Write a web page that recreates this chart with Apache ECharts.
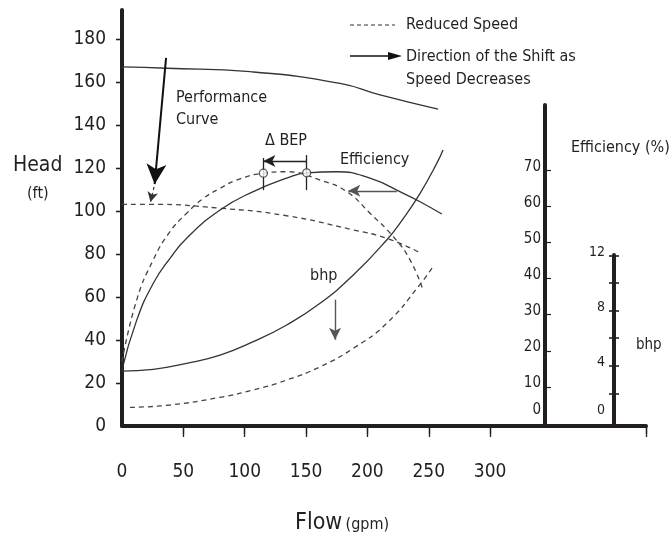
<!DOCTYPE html>
<html lang="en">
<head>
  <meta charset="UTF-8">
  <title>Pump curves at reduced speed</title>
  <script src="https://cdn.jsdelivr.net/npm/echarts@6/dist/echarts.min.js"></script>
  <style>
    html, body { margin: 0; padding: 0; background: #fff; }
    #chart { width: 670px; height: 538px; }
  </style>
</head>
<body>
  <div id="chart"></div>
  <script>
    // tick labels
    var flowTicks = [0, 50, 100, 150, 200, 250, 300];
    var headTicks = [0, 20, 40, 60, 80, 100, 120, 140, 160, 180];
    var effTicks = [0, 10, 20, 30, 40, 50, 60, 70];
    var bhpTicks = [0, 4, 8, 12];
    var bhpMinor = [2, 4, 6, 8, 10, 12];

    // head (ft) - full speed / reduced speed
    var headFlow = [0, 36.4, 104.3, 177.7, 210.3, 257.5];
    var headFull = [167, 166.4, 164.8, 159.4, 154, 147.4];
    var headRedFlow = [0, 22.8, 79.9, 134.2, 188.5, 215.7, 241.5];
    var headReduced = [103.1, 103.1, 101.3, 97.8, 91.2, 87.3, 81];

    // efficiency (%)
    var effFlow = [0, 12, 25.5, 39.1, 52.7, 79.9, 107, 134.2, 150.5, 175, 202.1, 229.3, 242.9, 260.6];
    var effFull = [14.7, 28.5, 38.7, 45.6, 51.2, 59, 64.1, 67.8, 69.3, 69.6, 67.8, 63.6, 61.3, 57.9];
    var effRedFlow = [0, 12, 25.5, 39.1, 52.7, 66.3, 79.9, 93.5, 115.2, 134.2, 161.4, 183.1, 202.1, 221.1, 234.7, 245.3];
    var effReduced = [17, 34.1, 45.2, 53, 58.1, 62.2, 65, 67.3, 69.2, 69.6, 67.3, 64.1, 58.1, 51.6, 45.2, 36.8];

    // bhp
    var bhpFlow = [0, 25.5, 52.7, 79.9, 107, 134.2, 161.4, 188.5, 215.7, 229.3, 242.9, 256.5, 261.6];
    var bhpFull = [3.62, 3.75, 4.18, 4.78, 5.75, 6.96, 8.53, 10.58, 13.12, 14.69, 16.5, 18.67, 19.64];
    var bhpRedFlow = [6.5, 39.1, 79.9, 107, 134.2, 161.4, 188.5, 215.7, 242.9, 253.7];
    var bhpReduced = [0.99, 1.16, 1.72, 2.25, 2.97, 3.93, 5.27, 7.08, 9.9, 11.23];

    // best efficiency points (reduced, full)
    var bepFlow = [115.2, 150.5];
    var bepEff = [69.2, 69.3];

    // shift arrows, [from, to] in data units
    var headArrow = [[35.9, 171.2], [26.6, 112.5]];
    var headArrowTail = [[26.1, 111.2], [23.2, 104.2]];
    var bepArrow = [[150.5, 72.6], [115.2, 72.6]];
    var effArrow = [[223.9, 64.3], [184.4, 64.3]];
    var bhpArrow = [[173.6, 8.79], [173.6, 5.89]];

    var INK = '#231f20';
    var FONT = "'DejaVu Sans Condensed', 'DejaVu Sans', sans-serif";

    function pairs(xs, ys) {
      return xs.map(function (x, i) { return [x, ys[i]]; });
    }

    function arrow(pts, size, color, width, dashed) {
      return {
        silent: true,
        animation: false,
        symbol: ['none', 'arrow'],
        symbolSize: size,
        label: { show: false },
        emphasis: { disabled: true },
        lineStyle: { color: color, width: width, type: dashed ? [3, 3] : 'solid' },
        data: [[{ coord: pts[0] }, { coord: pts[1] }]]
      };
    }

    function curve(data, yIdx, dashed, mark) {
      var s = {
        type: 'line',
        xAxisIndex: 0,
        yAxisIndex: yIdx,
        data: data,
        smooth: 0.5,
        symbol: 'none',
        silent: true,
        lineStyle: { color: dashed ? '#444' : '#333', width: 1.3, type: dashed ? [5, 4] : 'solid' }
      };
      if (mark) s.markLine = mark;
      return s;
    }

    // side axis labels sit a little above their ticks, "0" more so
    function sideLabel(v) {
      return v === 0 ? '{z|0}' : '{n|' + v + '}';
    }

    var chart = echarts.init(document.getElementById('chart'));

    var txt = function (text, x, y, size, align) {
      return {
        type: 'text', x: x, y: y,
        style: {
          text: text, fill: INK, font: size + 'px ' + FONT,
          textAlign: align || 'left', textVerticalAlign: 'middle'
        }
      };
    };

    var option = {
      animation: false,
      backgroundColor: '#fff',
      textStyle: { fontFamily: FONT, color: INK },
      grid: [
        { left: 122, right: 24, top: 10, bottom: 112 },
        { left: 545, width: 2, top: 105, bottom: 112 },
        { left: 614, width: 2, top: 255, bottom: 112 }
      ],
      xAxis: [
        {
          type: 'value', gridIndex: 0, min: 0, max: 427,
          axisLine: { lineStyle: { color: INK, width: 4 } },
          axisTick: { length: 11, customValues: [50, 100, 150, 200, 250, 300, 427], lineStyle: { color: INK, width: 1.3 } },
          axisLabel: { customValues: flowTicks, margin: 37, fontSize: 19, color: INK, fontFamily: FONT },
          splitLine: { show: false }
        },
        {
          type: 'value', gridIndex: 0, min: 0, max: 427,
          axisLine: { show: false },
          axisTick: { inside: true, length: 8, customValues: [50, 100, 150, 200, 250, 300, 427], lineStyle: { color: INK, width: 1.3 } },
          axisLabel: { show: false },
          splitLine: { show: false }
        },
        { type: 'value', gridIndex: 1, show: false, min: 0, max: 1 },
        { type: 'value', gridIndex: 2, show: false, min: 0, max: 1 }
      ],
      yAxis: [
        {
          type: 'value', gridIndex: 0, min: 0, max: 193.5,
          axisLine: { show: true, lineStyle: { color: INK, width: 4 } },
          axisTick: { show: true, length: 6, customValues: headTicks.slice(1), lineStyle: { color: INK, width: 1.3 } },
          axisLabel: { customValues: headTicks, margin: 16, fontSize: 19, color: INK, fontFamily: FONT },
          splitLine: { show: false }
        },
        {
          type: 'value', gridIndex: 0, min: 0, max: 193.5,
          axisLine: { show: false },
          axisTick: { show: true, inside: true, length: 6, customValues: headTicks.slice(1), lineStyle: { color: INK, width: 1.3 } },
          axisLabel: { show: false },
          splitLine: { show: false }
        },
        // hidden scales for efficiency and bhp in the main plot
        { type: 'value', gridIndex: 0, show: false, min: -0.83, max: 114.4 },
        { type: 'value', gridIndex: 0, show: false, min: -0.36, max: 29.78 },
        // efficiency axis
        {
          type: 'value', gridIndex: 1, position: 'left', min: -0.83, max: 88.09,
          axisLine: { show: true, lineStyle: { color: INK, width: 4 } },
          axisTick: { show: true, inside: true, length: 6, customValues: effTicks.slice(1), lineStyle: { color: INK, width: 1.2 } },
          axisLabel: {
            customValues: effTicks, margin: 4, color: INK, formatter: sideLabel,
            rich: {
              n: { fontSize: 15, fontFamily: FONT, color: INK, padding: [0, 0, 7, 0] },
              z: { fontSize: 15, fontFamily: FONT, color: INK, padding: [0, 0, 26, 0] }
            }
          },
          splitLine: { show: false }
        },
        // bhp axis
        {
          type: 'value', gridIndex: 2, position: 'left', min: -0.36, max: 12.03,
          axisLine: { show: true, lineStyle: { color: INK, width: 4 } },
          axisTick: { show: true, length: 5, customValues: bhpMinor, lineStyle: { color: INK, width: 1.6 } },
          axisLabel: {
            customValues: bhpTicks, margin: 9, color: INK, formatter: sideLabel,
            rich: {
              n: { fontSize: 14, fontFamily: FONT, color: INK, padding: [0, 0, 6, 0] },
              z: { fontSize: 14, fontFamily: FONT, color: INK, padding: [0, 0, 22, 0] }
            }
          },
          splitLine: { show: false }
        },
        {
          type: 'value', gridIndex: 2, position: 'left', min: -0.36, max: 12.03,
          axisLine: { show: false },
          axisTick: { show: true, inside: true, length: 5, customValues: bhpMinor, lineStyle: { color: INK, width: 1.6 } },
          axisLabel: { show: false },
          splitLine: { show: false }
        }
      ],
      series: [
        curve(pairs(headFlow, headFull), 0, false, arrow(headArrow, [15, 20], '#111', 2, false)),
        curve(pairs(headRedFlow, headReduced), 0, true, arrow(headArrowTail, [8, 10], '#333', 1.2, true)),
        curve(pairs(effFlow, effFull), 2, false, {
          silent: true, animation: false, symbol: ['none', 'arrow'], symbolSize: [9, 12],
          label: { show: false }, emphasis: { disabled: true },
          lineStyle: { color: '#222', width: 1.3, type: 'solid' },
          data: [
            [{ coord: bepArrow[0] }, { coord: bepArrow[1] }],
            [{ coord: effArrow[0], lineStyle: { color: '#555' } }, { coord: effArrow[1] }],
            [{ coord: [bepFlow[0], 73.4], symbol: 'none' }, { coord: [bepFlow[0], 64.5], symbol: 'none' }],
            [{ coord: [bepFlow[1], 74.2], symbol: 'none' }, { coord: [bepFlow[1], 64.5], symbol: 'none' }]
          ]
        }),
        curve(pairs(effRedFlow, effReduced), 2, true),
        curve(pairs(bhpFlow, bhpFull), 3, false, arrow(bhpArrow, [9, 12], '#555', 1.4, false)),
        curve(pairs(bhpRedFlow, bhpReduced), 3, true),
        {
          type: 'scatter', xAxisIndex: 0, yAxisIndex: 2, silent: true, z: 5,
          data: pairs(bepFlow, bepEff),
          symbol: 'circle', symbolSize: 8,
          itemStyle: { color: '#fff', borderColor: '#333', borderWidth: 1.3 }
        }
      ],
      graphic: [
        // legend
        { type: 'line', shape: { x1: 350, y1: 25, x2: 395, y2: 25 }, style: { stroke: '#333', lineWidth: 1.2, lineDash: [4, 3] } },
        { type: 'line', shape: { x1: 350, y1: 56, x2: 392, y2: 56 }, style: { stroke: '#111', lineWidth: 1.3 } },
        { type: 'polygon', shape: { points: [[388, 52], [402, 56], [388, 60]] }, style: { fill: '#111' } },
        txt('Reduced Speed', 406, 25, 16),
        txt('Direction of the Shift as', 406, 57, 16),
        txt('Speed Decreases', 406, 80, 16),
        // annotations
        txt('Performance', 176, 98, 16),
        txt('Curve', 176, 120, 16),
        txt('\u0394 BEP', 286, 141, 16, 'center'),
        txt('Efficiency', 340, 160, 16),
        txt('bhp', 310, 276, 16),
        txt('Efficiency (%)', 571, 148, 16),
        txt('bhp', 636, 345, 15),
        // axis titles
        txt('Head', 13, 166, 21),
        txt('(ft)', 27, 194, 16),
        {
          type: 'text', x: 295, y: 523,
          style: {
            text: '{a|Flow} {b|(gpm)}', textVerticalAlign: 'middle',
            rich: {
              a: { fontSize: 23, fontFamily: FONT, fill: INK, color: INK },
              b: { fontSize: 16, fontFamily: FONT, fill: INK, color: INK, padding: [4, 0, 0, 0] }
            }
          }
        }
      ]
    };

    chart.setOption(option);
  </script>
</body>
</html>
